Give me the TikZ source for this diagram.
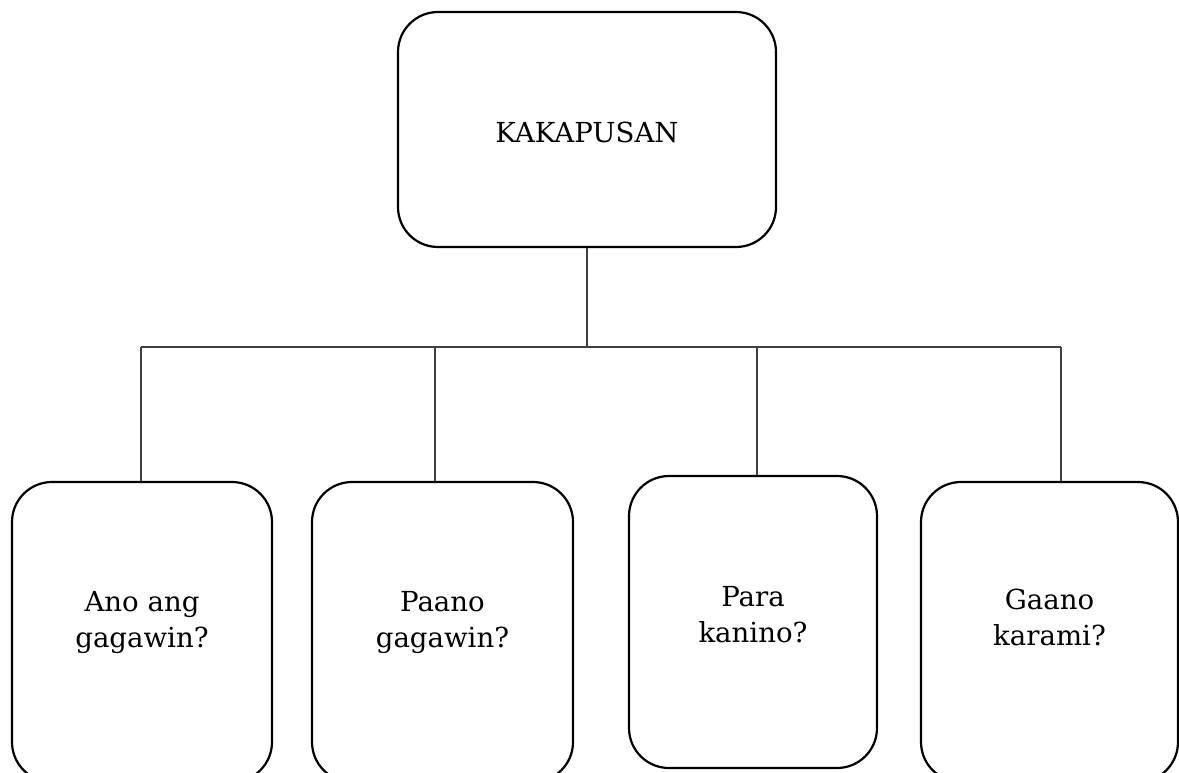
\documentclass[tikz,border=0pt]{standalone}
\usepackage{fontspec}
\setmainfont{DejaVu Serif}
\begin{document}
\begin{tikzpicture}[x=1pt,y=-1pt,
  box/.style={draw=black, line width=2.2pt, rounded corners=40pt, inner sep=0pt},
  txt/.style={align=center, inner sep=0pt, font=\fontsize{27.6}{36}\selectfont},
  conn/.style={draw=black!75, line width=1.1pt}]
\useasboundingbox (0,0) rectangle (1179,772);
\node[box, minimum width=378pt, minimum height=235pt] (top) at (587,129.5) {};
\node[box, minimum width=260pt, minimum height=300pt] (b1) at (142,632) {};
\node[box, minimum width=261pt, minimum height=300pt] (b2) at (442.5,632) {};
\node[box, minimum width=248pt, minimum height=292pt] (b3) at (753,622) {};
\node[box, minimum width=257pt, minimum height=300pt] (b4) at (1049.5,632) {};
\node[txt] (t0) at (587,135) {KAKAPUSAN\strut};
\node[txt] (t1) at (142,622) {Ano ang\strut\\gagawin?\strut};
\node[txt] (t2) at (442.5,622) {Paano\strut\\gagawin?\strut};
\node[txt] (t3) at (753,617) {Para\strut\\kanino?\strut};
\node[txt] (t4) at (1049.5,620) {Gaano\strut\\karami?\strut};
\coordinate (h1) at (141,347);
\coordinate (h2) at (435,347);
\coordinate (h3) at (757,347);
\coordinate (h4) at (1061,347);
\draw[conn] (top.south) -- (top.south |- h1);
\draw[conn] (h1) -- (h4);
\draw[conn] (h1) -- (h1 |- b1.north);
\draw[conn] (h2) -- (h2 |- b2.north);
\draw[conn] (h3) -- (h3 |- b3.north);
\draw[conn] (h4) -- (h4 |- b4.north);
\end{tikzpicture}
\end{document}
